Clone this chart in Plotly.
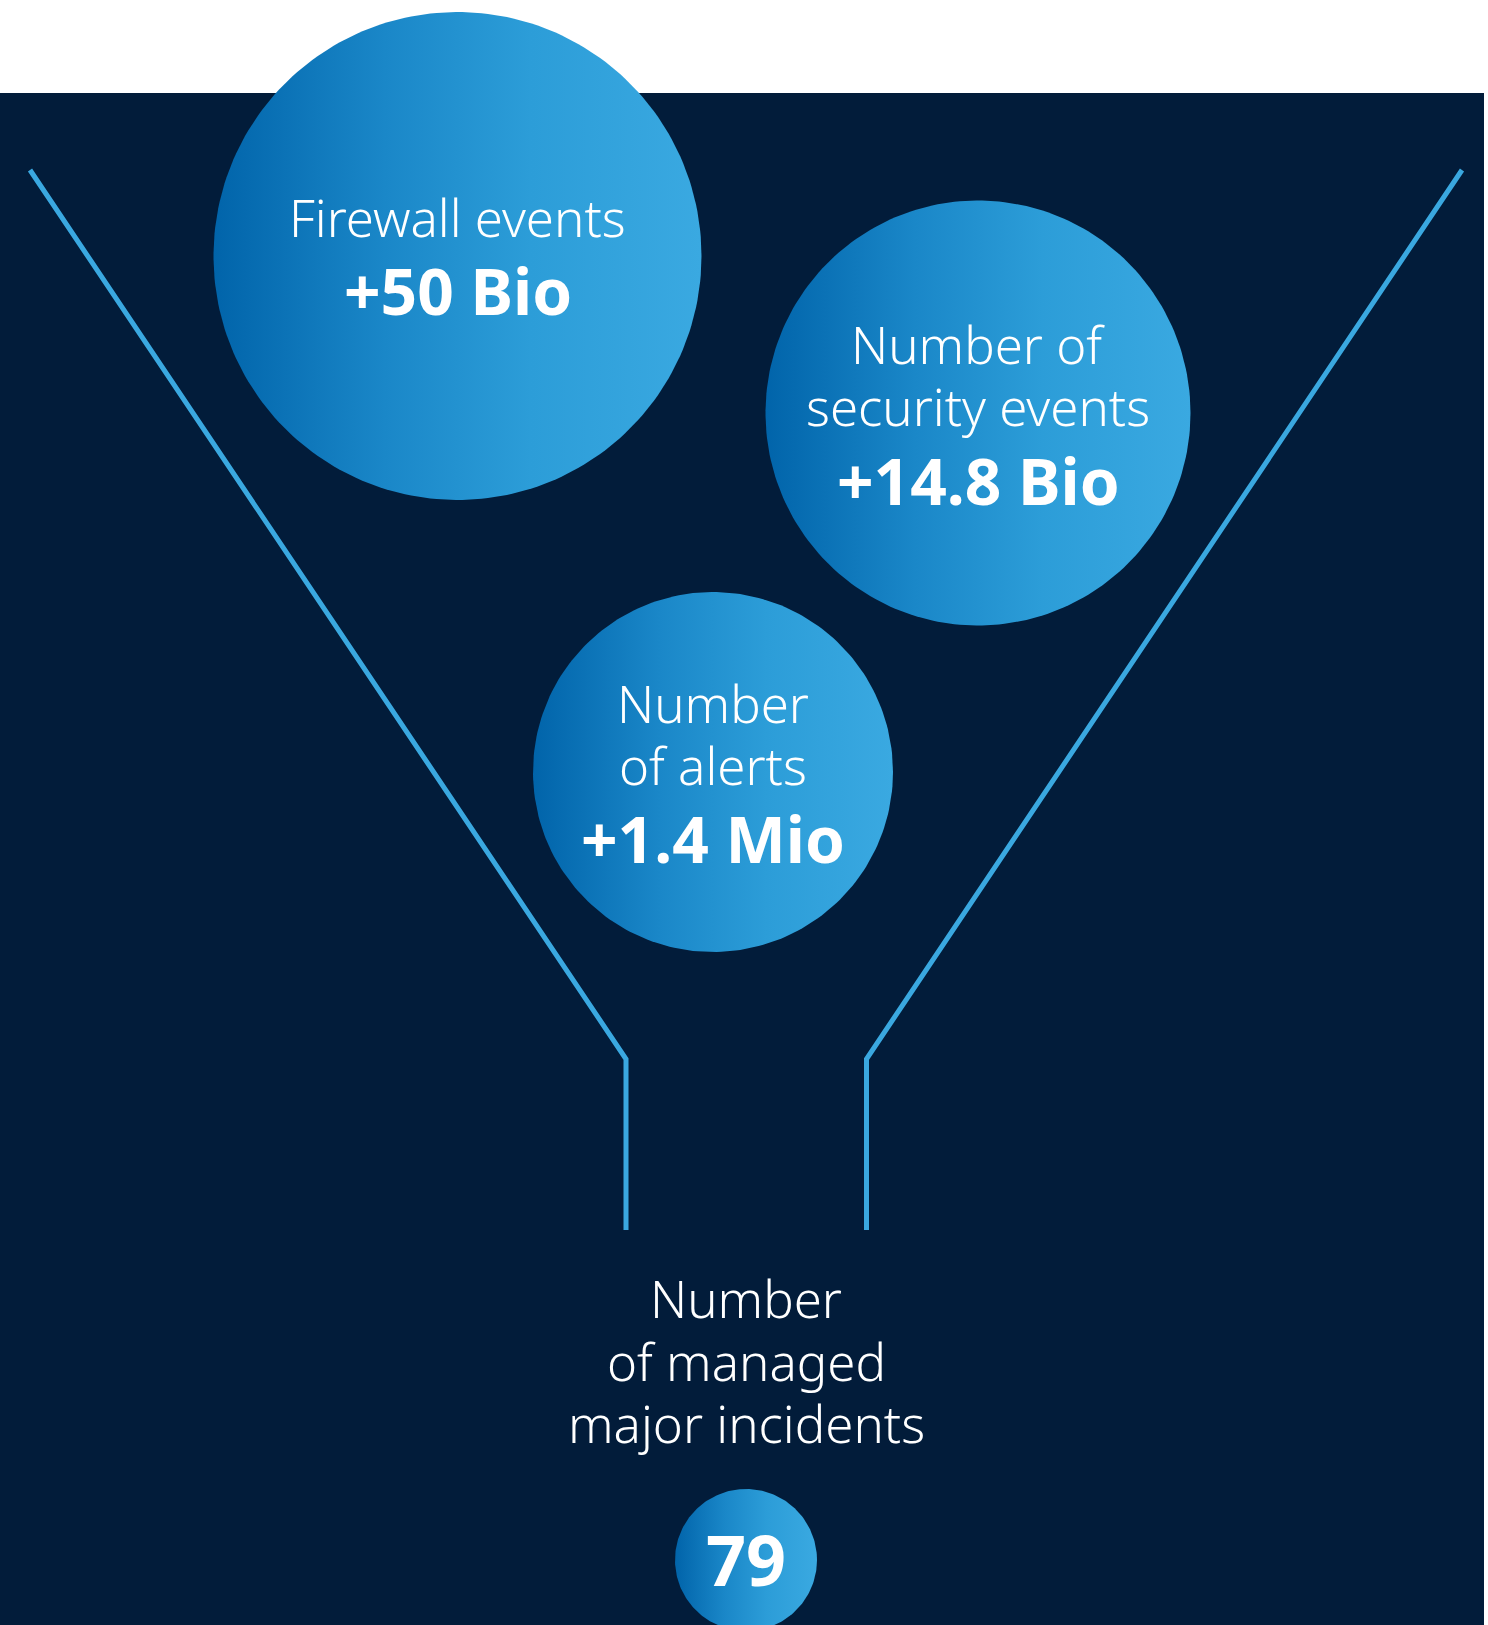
import numpy as np
import plotly.graph_objects as go

# ---- data ----
stage_labels = [["Firewall events"], ["Number of", "security events"], ["Number", "of alerts"],
                ["Number", "of managed", "major incidents"]]
stage_values = ["+50 Bio", "+14.8 Bio", "+1.4 Mio", "79"]

# ---- layout (pixel space) ----
W, H = 1488, 1625
BG = "#021c3a"
LINE = "#3aa8e0"
GRAD = [[0, "#0164aa"], [0.35, "#1a87c8"], [0.65, "#2c9dd8"], [1, "#3aa9e1"]]
circles = [(457.5, 256, 244), (978, 413, 212.5), (713, 772, 180), (746, 1560, 71)]
label_y = [[217], [344, 406], [703, 765], [1298, 1361, 1423]]
label_x = [457.5, 978, 713, 746]
value_y = [290, 480, 838, 1559]
value_size = [64, 64, 64, 70]

fig = go.Figure()

# funnel outline
fig.add_trace(go.Scatter(x=[30, 626, 626], y=[170, 1059, 1230], mode="lines",
                         line=dict(color=LINE, width=5), hoverinfo="skip", showlegend=False))
fig.add_trace(go.Scatter(x=[1462, 866.5, 866.5], y=[170, 1059, 1230], mode="lines",
                         line=dict(color=LINE, width=5), hoverinfo="skip", showlegend=False))

t = np.linspace(0, 2 * np.pi, 240)
for (cx, cy, r) in circles:
    fig.add_trace(go.Scatter(x=cx + r * np.cos(t), y=cy + r * np.sin(t), mode="lines",
                             fill="toself", line=dict(width=0, color="rgba(0,0,0,0)"),
                             fillgradient=dict(type="horizontal", colorscale=GRAD),
                             hoverinfo="skip", showlegend=False))

ann = []
FONT = "Noto Sans"
for i, lines in enumerate(stage_labels):
    for j, txt in enumerate(lines):
        ann.append(dict(x=label_x[i], y=label_y[i][j], text=txt, showarrow=False,
                        xref="x", yref="y", xanchor="center", yanchor="middle",
                        font=dict(family=FONT, size=51, color="white", weight=300)))
    ann.append(dict(x=label_x[i], y=value_y[i], text=stage_values[i], showarrow=False,
                    xref="x", yref="y", xanchor="center", yanchor="middle",
                    font=dict(family=FONT, size=value_size[i], color="white", weight=700)))

fig.update_layout(
    width=W, height=H, margin=dict(l=0, r=0, t=0, b=0),
    paper_bgcolor="white", plot_bgcolor="white",
    xaxis=dict(range=[0, W], visible=False, fixedrange=True),
    yaxis=dict(range=[H, 0], visible=False, fixedrange=True),
    shapes=[dict(type="rect", xref="x", yref="y", x0=0, x1=1484, y0=93, y1=H + 10,
                 fillcolor=BG, line=dict(width=0), layer="below")],
    annotations=ann,
)
fig.write_html("out.html")
